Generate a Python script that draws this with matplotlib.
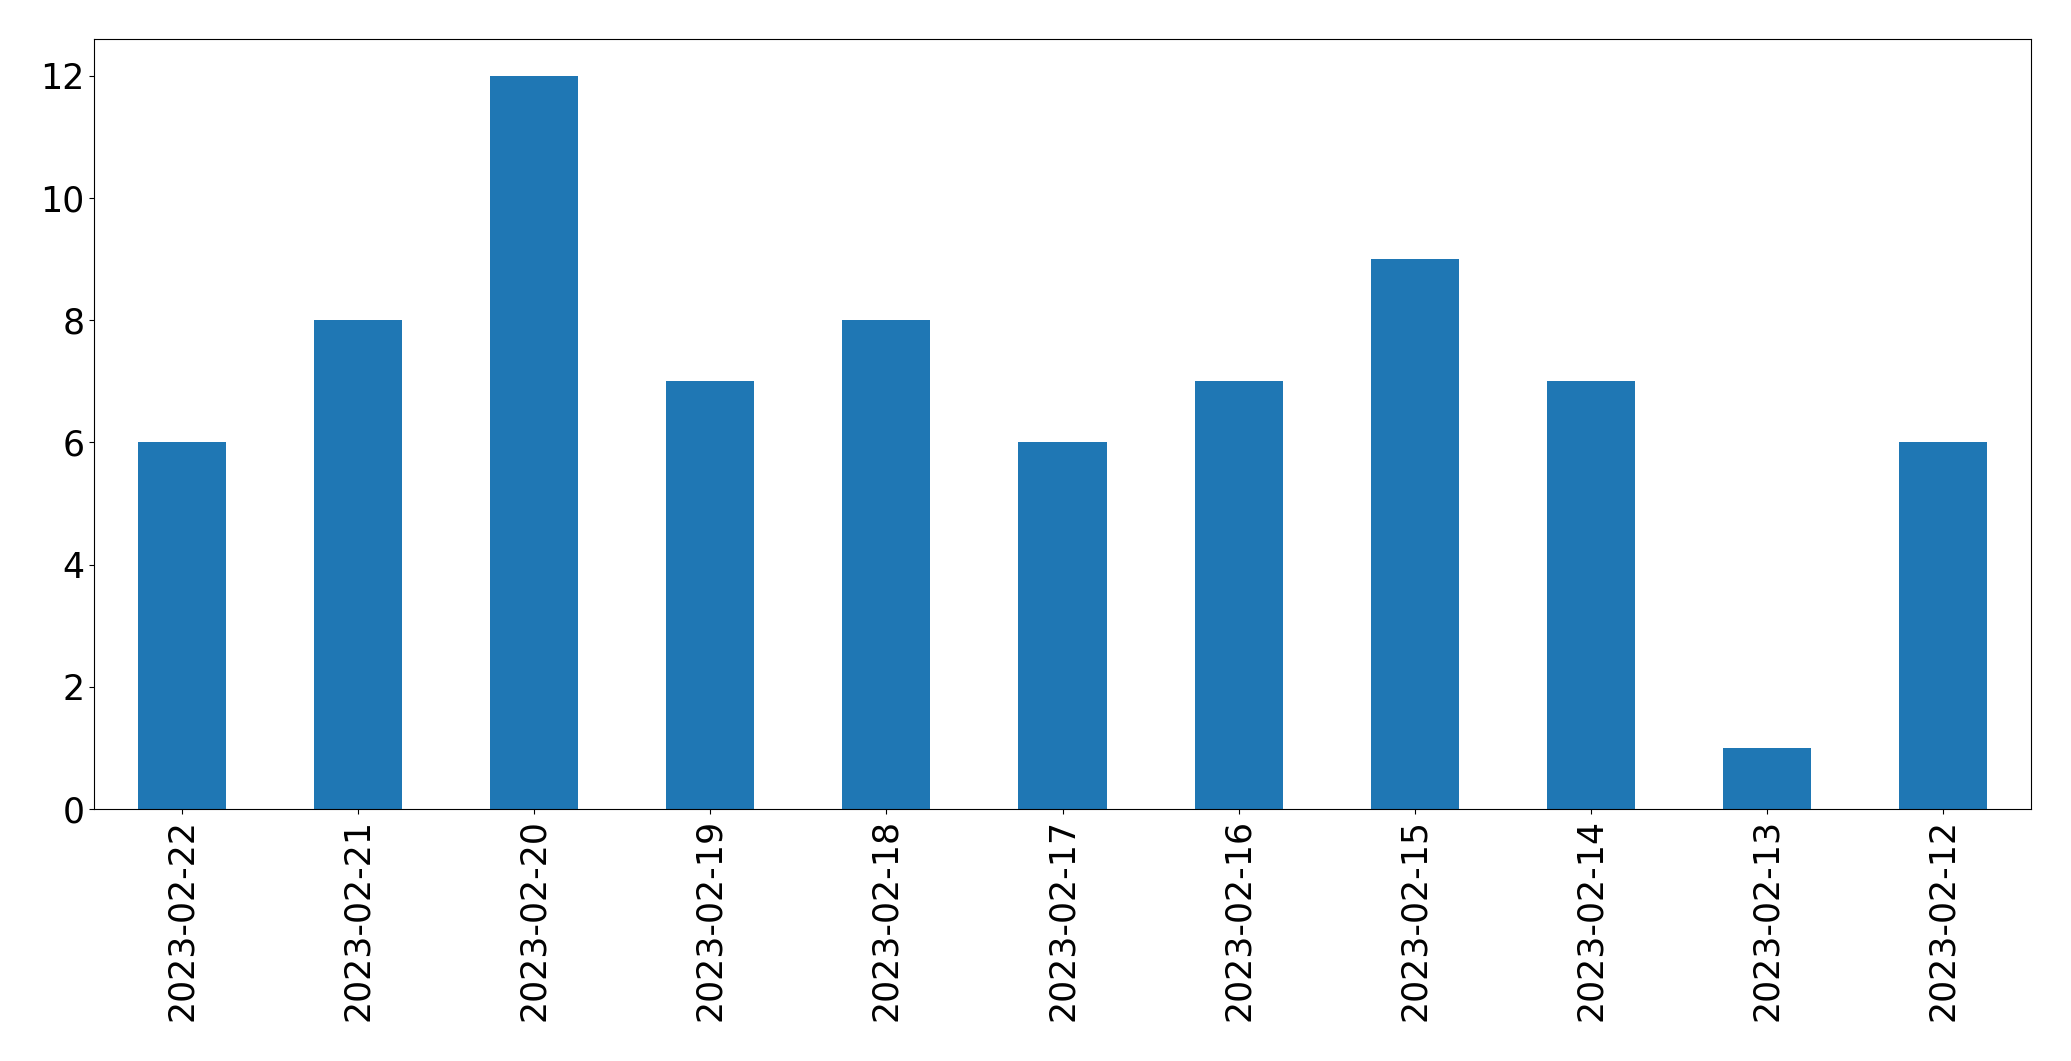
import matplotlib
matplotlib.use("Agg")
import matplotlib.pyplot as plt

dates = ["2023-02-22", "2023-02-21", "2023-02-20", "2023-02-19", "2023-02-18",
         "2023-02-17", "2023-02-16", "2023-02-15", "2023-02-14", "2023-02-13",
         "2023-02-12"]
counts = [6, 8, 12, 7, 8, 6, 7, 9, 7, 1, 6]

fig = plt.figure(figsize=(20.71, 10.61), dpi=100)
ax = fig.add_axes([94/2071, 1-809/1061, (2031-94)/2071, (809-39.3)/1061])
x = list(range(len(dates)))
ax.bar(x, counts, width=0.5, color="#1f77b4")
ax.set_xticks(x)
ax.set_xticklabels(dates, rotation=90)
ax.set_xlim(-0.5, len(dates) - 0.5)
ax.set_ylim(0, 12.6)
ax.set_yticks([0, 2, 4, 6, 8, 10, 12])
ax.tick_params(labelsize=25)
fig.savefig("out.png", dpi=100)
